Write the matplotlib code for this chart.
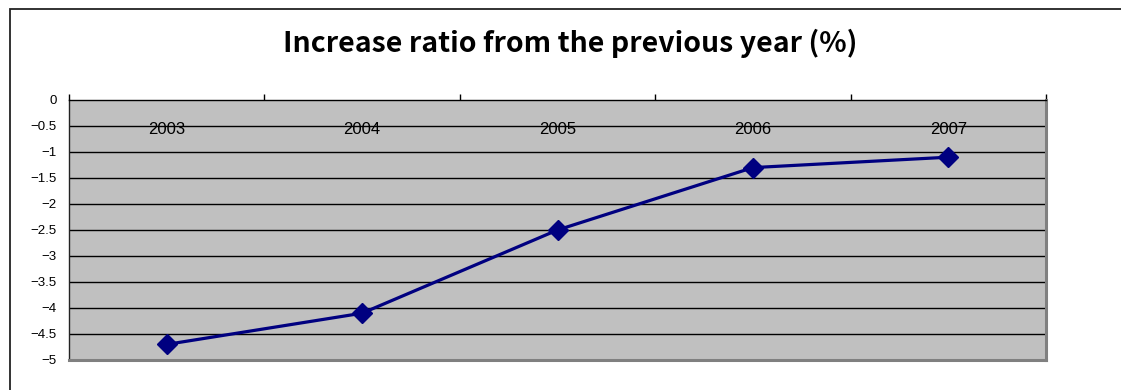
import numpy as np
import matplotlib
matplotlib.use("Agg")
import matplotlib.pyplot as plt
from matplotlib.patches import Rectangle
from matplotlib.ticker import FixedLocator, FuncFormatter

years = ["2003", "2004", "2005", "2006", "2007"]
ratio = [-4.7, -4.1, -2.5, -1.3, -1.1]
y_ticks = [0, -0.5, -1, -1.5, -2, -2.5, -3, -3.5, -4, -4.5, -5]

plt.rcParams["font.family"] = ["Liberation Sans", "DejaVu Sans"]

fig = plt.figure(figsize=(11.21, 3.9), dpi=100)
W, H = 1121, 390

# outer chart frame (runs off the right and bottom edges)
fig.patches.append(Rectangle((10 / W, -0.2), 1.5, 1.2 - 9 / H,
                             transform=fig.transFigure, fill=False,
                             edgecolor="#222222", linewidth=1.3))

fig.text(570 / W, 1 - 43 / H, "Increase ratio from the previous year (%)",
         ha="center", va="center", fontsize=20.5, fontweight="bold",
         family=["Noto Sans CJK JP", "DejaVu Sans"])

ax = fig.add_axes([69 / W, 30 / H, (1046 - 69) / W, (360 - 100) / H])
ax.set_facecolor("#C0C0C0")

x = np.arange(len(years))
ax.set_xlim(-0.5, len(years) - 0.5)
ax.set_ylim(-5, 0)

# horizontal gridlines
for v in y_ticks[1:-1]:
    ax.axhline(v, color="black", linewidth=1.0, zorder=1)

ax.plot(x, ratio, color="#000080", linewidth=2.3, marker="D",
        markersize=10, zorder=3)

ax.set_yticks(y_ticks)
ax.yaxis.set_major_formatter(FuncFormatter(lambda v, p: ("%g" % v).replace("-", "\u2212")))
ax.tick_params(axis="y", length=0, pad=9, labelsize=9.5)

ax.xaxis.tick_top()
ax.set_xticks(x)
ax.set_xticklabels(years)
ax.tick_params(axis="x", which="major", length=0, pad=-26.5, labelsize=12)
ax.xaxis.set_minor_locator(FixedLocator(np.arange(-0.5, len(years), 1.0)))
ax.tick_params(axis="x", which="minor", length=4, width=1, direction="out",
               color="black", top=True, bottom=False)

ax.spines["top"].set_color("black")
ax.spines["top"].set_linewidth(1.0)
ax.spines["left"].set_color("#222222")
ax.spines["left"].set_linewidth(1.0)
ax.spines["right"].set_color("#808080")
ax.spines["right"].set_linewidth(2.2)
ax.spines["bottom"].set_color("#808080")
ax.spines["bottom"].set_linewidth(2.2)

fig.savefig("out.png", dpi=100)
